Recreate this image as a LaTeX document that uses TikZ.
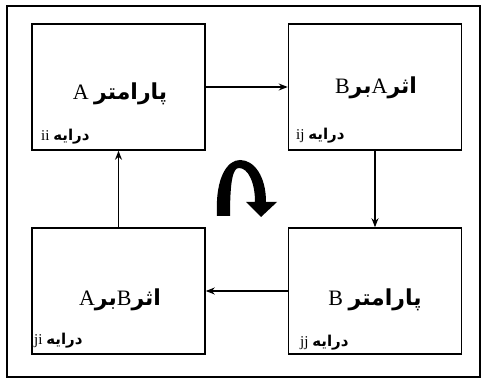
\documentclass[tikz,border=0pt]{standalone}
\usepackage{fontspec}
\setmainfont{Liberation Serif}
\newfontfamily\arabicfont[Script=Arabic]{DejaVu Sans}
\TeXXeTstate=1
\usetikzlibrary{arrows.meta}
\begin{document}
\begin{tikzpicture}[x=1pt,y=-1pt,
  pbox/.style={draw, line width=1.6pt, minimum width=173pt, minimum height=126pt, inner sep=0pt},
  maintext/.style={anchor=base, inner sep=0pt, font=\fontsize{22}{26}\selectfont},
  lbl/.style={anchor=base west, inner sep=0pt, font=\fontsize{15}{18}\selectfont},
  conn/.style={line width=1.2pt, -{Stealth[length=9pt,width=7pt,inset=3pt]}}]
\useasboundingbox (0,0) rectangle (484,379);
\fill[white] (0,0) rectangle (484,379);
\draw[line width=2pt] (7,6) rectangle (480,377);
\node[pbox] (A) at (118.5,87) {};
\node[pbox] (AB) at (375,87) {};
\node[pbox] (BA) at (118.5,291) {};
\node[pbox] (B) at (375,291) {};
\node[maintext] (tA) at (120,100) {\beginR{\arabicfont\bfseries پارامتر} A\endR};
\node[maintext] (tAB) at (376,94) {\beginR{\arabicfont\bfseries اثر}\beginL A\endL{\arabicfont\bfseries بر}\beginL B\endL\endR};
\node[maintext] (tBA) at (120,305) {\beginR{\arabicfont\bfseries اثر}\beginL B\endL{\arabicfont\bfseries بر}\beginL A\endL\endR};
\node[maintext] (tB) at (375,305) {\beginR{\arabicfont\bfseries پارامتر} B\endR};
\node[lbl] (lA) at (41,141) {\beginR{\arabicfont\bfseries درایه} \beginL ii\endL\endR};
\node[lbl] (lAB) at (296,140) {\beginR{\arabicfont\bfseries درایه} \beginL ij\endL\endR};
\node[lbl] (lBA) at (34,344) {\beginR{\arabicfont\bfseries درایه} \beginL ji\endL\endR};
\node[lbl] (lB) at (300,346) {\beginR{\arabicfont\bfseries درایه} \beginL jj\endL\endR};
\draw[conn] (A) -- (AB);
\draw[conn] (AB) -- (B);
\draw[conn] (B) -- (BA);
\draw[conn] (BA) -- (A);
\fill (217,216) .. controls (215,176) and (228,160) .. (240,160)
  .. controls (254,160) and (266,176) .. (266,202)
  -- (277,202) -- (261,217) -- (246,202) -- (255,202)
  .. controls (255,182) and (248,168) .. (239,168)
  .. controls (233,168) and (230,180) .. (230,216) -- cycle;
\end{tikzpicture}
\end{document}
